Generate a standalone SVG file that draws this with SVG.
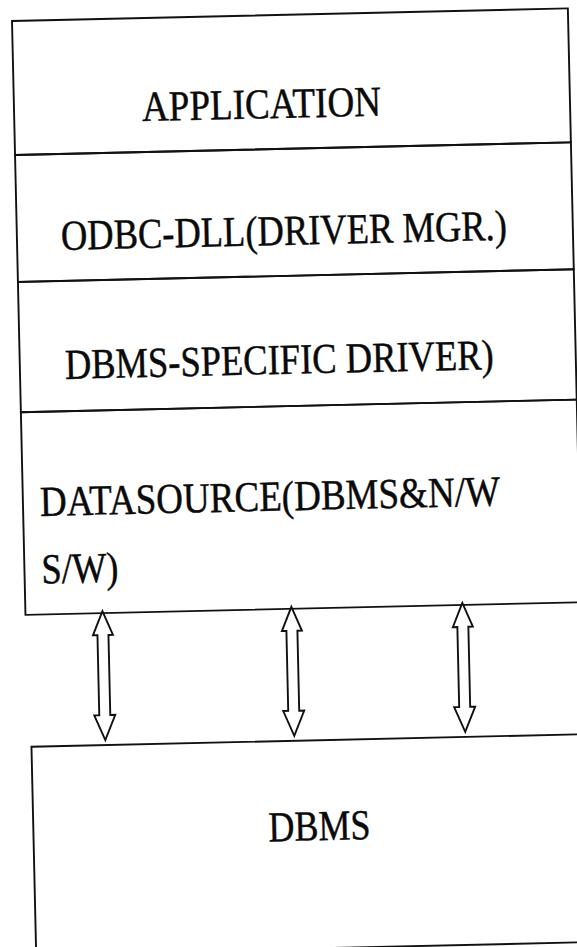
<svg xmlns="http://www.w3.org/2000/svg" xmlns:xlink="http://www.w3.org/1999/xlink" width="577" height="947" viewBox="0 0 577 947">
  <style>
    .box { fill: none; stroke: #111; stroke-width: 1.9; }
    .lbl { font-family: "Liberation Serif", "Times New Roman", serif; font-size: 36.5px; fill: #0a0a0a; stroke: #0a0a0a; stroke-width: 0.4; }
    .arrow { fill: #fff; stroke: #111; stroke-width: 1.9; stroke-linejoin: miter; }
  </style>
  <defs>
    <!-- hollow double-headed block arrow, 129 long, tip at origin -->
    <path id="dblArrow" d="M0,0 L10,24 L5.5,24 L5.5,104 L10.5,104 L0,129 L-10.5,104 L-5.5,104 L-5.5,24 L-10,24 Z"/>
  </defs>
  <rect x="0" y="0" width="577" height="947" fill="#fff"/>

  <!-- whole sheet sits at a slight tilt -->
  <g transform="translate(12 21) rotate(-1.3)">
    <g id="application">
      <rect class="box" x="0" y="0" width="556" height="134"/>
      <text class="lbl" transform="translate(128 103) scale(1 1.17)" textLength="239" lengthAdjust="spacingAndGlyphs">APPLICATION</text>
    </g>
    <g id="driver-manager">
      <rect class="box" x="0" y="134" width="556" height="127"/>
      <text class="lbl" transform="translate(44 230) scale(1 1.17)" textLength="446" lengthAdjust="spacingAndGlyphs">ODBC-DLL(DRIVER MGR.)</text>
    </g>
    <g id="dbms-driver">
      <rect class="box" x="0" y="261" width="556" height="130.3"/>
      <text class="lbl" transform="translate(45 359) scale(1 1.17)" textLength="429" lengthAdjust="spacingAndGlyphs">DBMS-SPECIFIC DRIVER)</text>
    </g>
    <g id="datasource">
      <rect class="box" x="0" y="391.3" width="556" height="202.7"/>
      <text class="lbl" transform="translate(17 495.5) scale(1 1.17)" textLength="460" lengthAdjust="spacingAndGlyphs">DATASOURCE(DBMS&amp;N/W</text>
      <text class="lbl" transform="translate(17 563) scale(1 1.17)" textLength="77" lengthAdjust="spacingAndGlyphs">S/W)</text>
    </g>
    <g id="dbms">
      <rect class="box" x="3" y="726" width="560" height="208"/>
      <text class="lbl" transform="translate(238 826) scale(1 1.17)" textLength="102" lengthAdjust="spacingAndGlyphs">DBMS</text>
    </g>
    <g id="connectors">
      <use xlink:href="#dblArrow" class="arrow" transform="translate(77 592)"/>
      <use xlink:href="#dblArrow" class="arrow" transform="translate(266 592)"/>
      <use xlink:href="#dblArrow" class="arrow" transform="translate(437 592)"/>
    </g>
  </g>
</svg>
